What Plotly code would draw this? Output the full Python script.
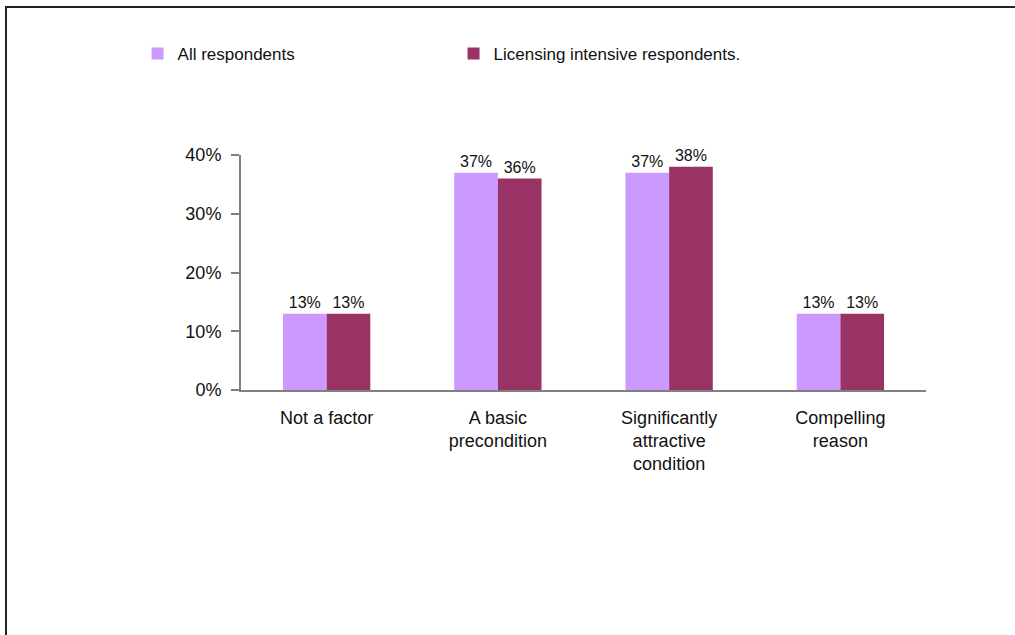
import plotly.graph_objects as go

categories = ["Not a factor", "A basic<br>precondition", "Significantly<br>attractive<br>condition", "Compelling<br>reason"]
all_respondents = [0.13, 0.37, 0.37, 0.13]
licensing_intensive = [0.13, 0.36, 0.38, 0.13]
series_names = ["All respondents", "Licensing intensive respondents."]
tick_values = [0, 0.1, 0.2, 0.3, 0.4]
tick_labels = ["0%", "10%", "20%", "30%", "40%"]

FONT = "Liberation Sans, Arial, Helvetica, sans-serif"

fig = go.Figure()
for name, vals, color in [
    (series_names[0], all_respondents, "#CC99FF"),
    (series_names[1], licensing_intensive, "#993366"),
]:
    fig.add_trace(go.Bar(
        x=categories, y=vals, name=name,
        marker=dict(color=color, line=dict(width=0)),
        text=[f"{v:.0%}" for v in vals],
        textposition="outside",
        textfont=dict(size=16, color="#111111", family=FONT),
        cliponaxis=False,
    ))

fig.update_layout(
    width=1015, height=635,
    margin=dict(l=241, r=89, t=155, b=245),
    paper_bgcolor="white", plot_bgcolor="white",
    barmode="group", bargap=0.49, bargroupgap=0,
    font=dict(family=FONT, color="#111111"),
    showlegend=True,
    legend=dict(
        orientation="h", x=-0.151, y=1.43, xanchor="left", yanchor="middle",
        font=dict(size=17, family=FONT), entrywidth=271, entrywidthmode="pixels",
        itemwidth=30, bgcolor="rgba(0,0,0,0)",
    ),
    xaxis=dict(
        showline=True, linecolor="#808080", linewidth=2,
        ticks="", showgrid=False, tickfont=dict(size=18, family=FONT),
        ticklabelstandoff=10, fixedrange=True,
    ),
    yaxis=dict(
        range=[0, 0.4], tickvals=tick_values, ticktext=tick_labels,
        showline=True, linecolor="#808080", linewidth=2,
        ticks="outside", ticklen=8, tickcolor="#808080", tickwidth=1.5,
        showgrid=False, zeroline=False, tickfont=dict(size=18, family=FONT),
        ticklabelstandoff=6, fixedrange=True,
    ),
    shapes=[dict(
        type="rect", xref="paper", yref="paper",
        x0=(6 - 241) / 685, x1=1.3, y0=-1.5, y1=(390 - 7) / 235,
        line=dict(color="#222222", width=2), fillcolor="rgba(0,0,0,0)",
        layer="below",
    )],
)

fig.write_html("out.html")
